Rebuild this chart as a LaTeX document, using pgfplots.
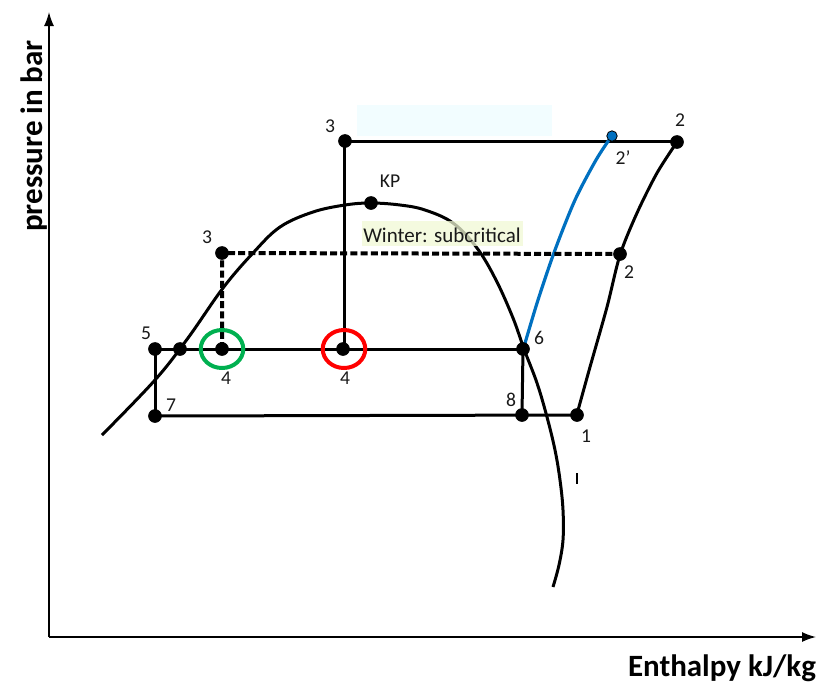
\documentclass[border=0pt]{standalone}
\usepackage{fontspec}
\setmainfont{Carlito}
\usepackage{pgfplots}
\pgfplotsset{compat=1.18}
\usetikzlibrary{arrows.meta}

\definecolor{lblue}{HTML}{0070C0}
\definecolor{cgreen}{HTML}{00B050}
\definecolor{cred}{HTML}{FF0000}
\definecolor{boxyel}{HTML}{F0F8D4}
\definecolor{boxcyan}{HTML}{F2FDFF}
\tikzset{lbl/.style={font=\fontsize{9.8}{11}\selectfont, text=black!90}}

\begin{document}
\begin{tikzpicture}
\begin{axis}[
        name=ax,
        width=413pt, height=343.5pt,
        scale only axis,
        xmin=0, xmax=826, ymin=0, ymax=687,
        y dir=reverse,
        axis lines=none,
        clip=false,
    ]
% pale box behind the top line
\addplot[draw=none, fill=boxcyan] coordinates {(357,105) (552,105) (552,136) (357,136)} -- cycle;

% axes
\addplot[line width=0.75pt, -{Latex[length=7pt,width=5pt]}] coordinates {(49,637) (49,12)};
\addplot[line width=0.75pt, -{Latex[length=7pt,width=5pt]}] coordinates {(49,637) (816,637)};

% saturation dome
\addplot[line width=1.5pt, smooth, tension=0.6] coordinates {
    (102,435) (155,380) (188,338) (223,288) (253,253)
    (280,227) (313,212) (345,205) (371,203) (400,205) (425,210) (453,223)
    (477,248) (496,280) (513,318) (524,349) (537,383) (547,417) (555,450)
    (560,480) (563,510) (563,540) (559,565) (553,587)};

% transcritical cycle
\addplot[line width=1.5pt] coordinates {(345,141) (677,141)};
\addplot[line width=1.5pt] coordinates {(344,141) (344,349)};
\addplot[line width=1.5pt] coordinates {(155,349) (524,349)};
\addplot[line width=1.5pt] coordinates {(155,349) (155,416)};
\addplot[line width=1.5pt] coordinates {(155,416) (577,415)};
\addplot[line width=1.5pt] coordinates {(522,415) (523,349)};
\addplot[line width=1.5pt, smooth] coordinates {
    (577,414) (590,367) (607,307) (620,255) (637,213) (657,173) (677,142)};
\addplot[line width=1.6pt, lblue, smooth] coordinates {
    (523,350) (538,300) (555,250) (575,200) (596,160) (611,137)};

% winter: subcritical
\addplot[line width=2pt, dash pattern=on 3.5pt off 1.6pt] coordinates {(222,349) (222,253) (620,254)};

\addplot[draw=none, fill=boxyel, fill opacity=0.75] coordinates {(362,221) (523,221) (523,246) (362,246)} -- cycle;
\node[font=\fontsize{10.5}{12}\selectfont, text=black!90] at (axis cs:442,235) {Winter: subcritical};

% state points
\addplot[only marks, mark=*, mark size=3.2pt, black] coordinates {
    (345,141) (677,142) (371,203) (222,253) (620,254) (155,349) (180,349)
    (222,349) (343,349) (523,349) (155,416) (522,415) (577,415)};
\addplot[only marks, mark=*, mark size=2.6pt, fill=lblue, draw=black, mark options={line width=0.4pt}] coordinates {(612,136)};
\addplot[only marks, mark=o, mark size=9.5pt, cgreen, mark options={line width=2pt, xscale=1.12}] coordinates {(222,349)};
\addplot[only marks, mark=o, mark size=9.5pt, cred, mark options={line width=2pt, xscale=1.12}] coordinates {(344,349)};

\addplot[line width=0.6pt] coordinates {(577,473) (577,484)};

% labels
\node[lbl] at (axis cs:330,126) {3};
\node[lbl] at (axis cs:680,120) {2};
\node[lbl] at (axis cs:623,158) {2’};
\node[lbl] at (axis cs:390,181) {KP};
\node[lbl] at (axis cs:207,237) {3};
\node[lbl] at (axis cs:629,272) {2};
\node[lbl] at (axis cs:146,333) {5};
\node[lbl] at (axis cs:226,378) {4};
\node[lbl] at (axis cs:345,378) {4};
\node[lbl] at (axis cs:539,338) {6};
\node[lbl] at (axis cs:171,405) {7};
\node[lbl] at (axis cs:511,400) {8};
\node[lbl] at (axis cs:586,436) {1};

\node[rotate=90, font=\bfseries\fontsize{15.5}{18}\selectfont] at (axis cs:34,136) {pressure in bar};
\node[font=\bfseries\fontsize{15.5}{18}\selectfont] at (axis cs:722,668) {Enthalpy kJ/kg};
\end{axis}
\pgfresetboundingbox
\path (ax.south west) rectangle (ax.north east);
\end{tikzpicture}
\end{document}
